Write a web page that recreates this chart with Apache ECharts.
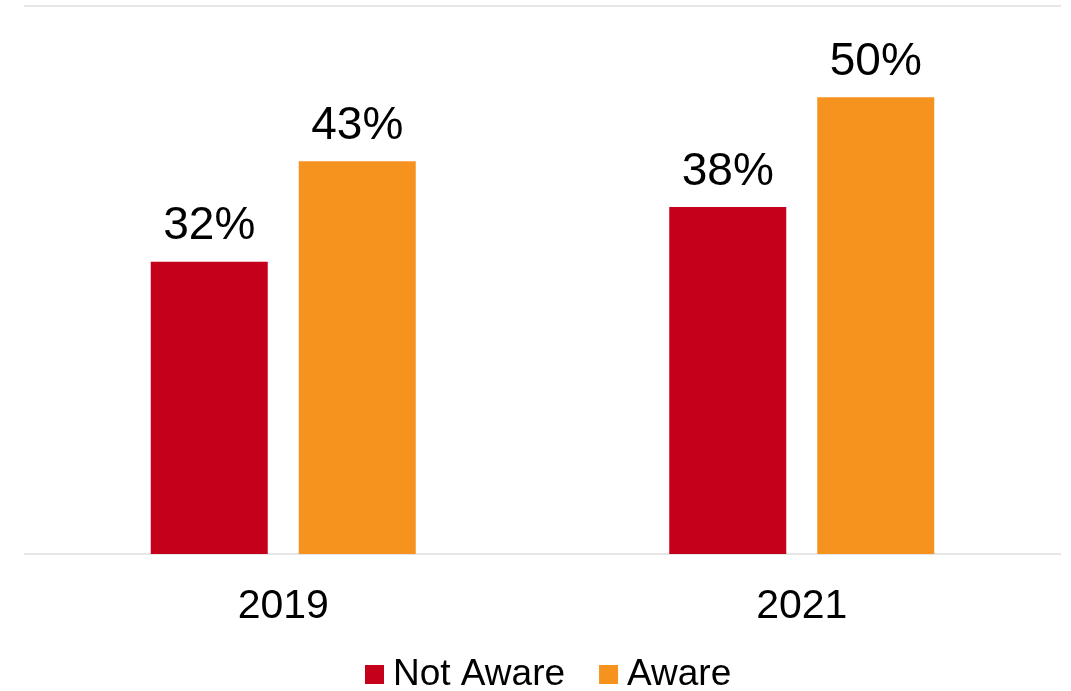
<!DOCTYPE html>
<html><head><meta charset="utf-8">
<script src="https://cdn.jsdelivr.net/npm/echarts@6/dist/echarts.min.js"></script>
<style>html,body{margin:0;padding:0;background:#fff}#c{width:1071px;height:691px}</style>
</head><body><div id="c"></div>
<script>
const categories = ['2019', '2021'];
const notAware = [32, 38];
const aware = [43, 50];
const seriesNames = ['Not Aware', 'Aware'];

const chart = echarts.init(document.getElementById('c'));
const font = '"Liberation Sans", Arial, sans-serif';
chart.setOption({
  animation: false,
  grid: {left: 24, right: 10, top: 6, bottom: 137, containLabel: false},
  legend: {
    data: seriesNames, left: 365, top: 656, padding: 0,
    itemWidth: 19, itemHeight: 19, itemGap: 34, icon: 'rect',
    textStyle: {fontFamily: font, fontSize: 37, color: '#000', padding: [0,0,0,4]}
  },
  xAxis: {
    type: 'category', data: categories,
    axisLine: {show: false}, axisTick: {show: false},
    axisLabel: {fontFamily: font, fontSize: 41, color: '#000', margin: 32}
  },
  yAxis: {
    type: 'value', min: 0, max: 60, interval: 60,
    axisLabel: {show: false}, axisLine: {show: false}, axisTick: {show: false},
    splitLine: {lineStyle: {color: '#e6e6e6', width: 2}}
  },
  series: [
    {name: seriesNames[0], type: 'bar', data: notAware, barWidth: 117, barGap: '26.5%',
     itemStyle: {color: '#C4001A'},
     label: {show: true, position: 'top', distance: 12, formatter: '{c}%', fontFamily: font, fontSize: 46, color: '#000'}},
    {name: seriesNames[1], type: 'bar', data: aware, barWidth: 117,
     itemStyle: {color: '#F6921E'},
     label: {show: true, position: 'top', distance: 12, formatter: '{c}%', fontFamily: font, fontSize: 46, color: '#000'}}
  ]
});
</script></body></html>
